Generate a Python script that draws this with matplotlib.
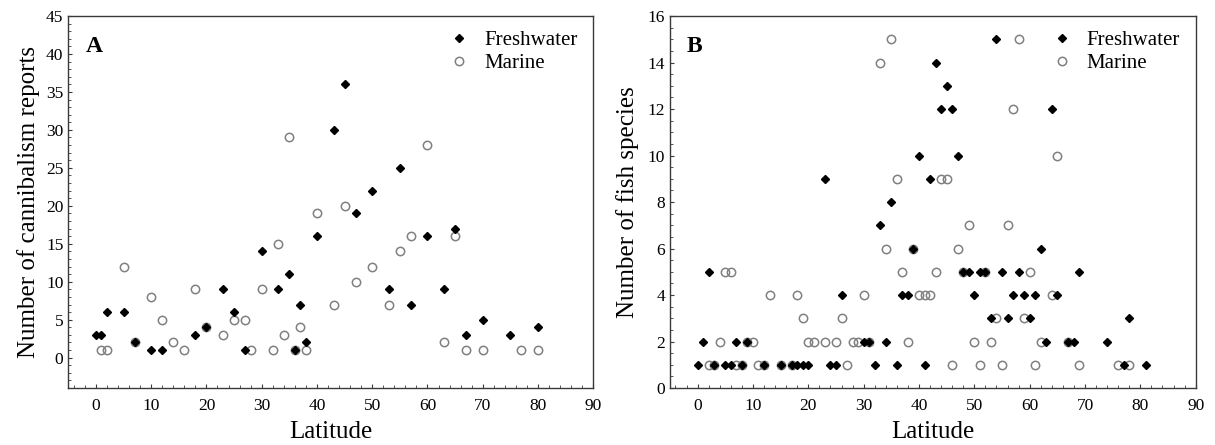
import matplotlib
matplotlib.use("Agg")
import matplotlib.pyplot as plt
from matplotlib.ticker import MultipleLocator

plt.rcParams['font.family'] = ['Liberation Serif', 'DejaVu Serif']

# ---- Panel A: cannibalism reports ----
a_fresh_lat = [0, 1, 2, 5, 7, 10, 12, 18, 20, 23, 25, 27, 30, 33, 35, 36, 37, 38, 40,
               43, 45, 47, 50, 53, 55, 57, 60, 63, 65, 67, 70, 75, 80]
a_fresh_val = [3, 3, 6, 6, 2, 1, 1, 3, 4, 9, 6, 1, 14, 9, 11, 1, 7, 2, 16,
               30, 36, 19, 22, 9, 25, 7, 16, 9, 17, 3, 5, 3, 4]
a_mar_lat = [1, 2, 5, 7, 10, 12, 14, 16, 18, 20, 23, 25, 27, 28, 30, 32, 33, 34, 35,
             36, 37, 38, 40, 43, 45, 47, 50, 53, 55, 57, 60, 63, 65, 67, 70, 77, 80]
a_mar_val = [1, 1, 12, 2, 8, 5, 2, 1, 9, 4, 3, 5, 5, 1, 9, 1, 15, 3, 29,
             1, 4, 1, 19, 7, 20, 10, 12, 7, 14, 16, 28, 2, 16, 1, 1, 1, 1]

# ---- Panel B: number of fish species ----
b_fresh_lat = [0, 3, 5, 6, 8, 12, 15, 17, 18, 19, 20, 24, 25, 32, 36, 41, 77, 81,
               1, 7, 9, 30, 31, 34, 63, 67, 68, 74,
               53, 56, 60, 78,
               26, 37, 38, 50, 57, 59, 61, 65,
               2, 48, 49, 51, 52, 55, 58, 69,
               39, 62,
               33,
               35,
               23, 42,
               40, 47,
               44, 46, 64,
               45,
               43,
               54]
b_fresh_val = [1] * 18 + [2] * 10 + [3] * 4 + [4] * 8 + [5] * 8 + [6] * 2 + [7] + [8] + \
              [9] * 2 + [10] * 2 + [12] * 3 + [13] + [14] + [15]
b_mar_lat = [2, 3, 7, 8, 11, 12, 15, 17, 27, 46, 51, 55, 61, 69, 76, 78,
             4, 9, 10, 20, 21, 23, 25, 28, 29, 31, 38, 50, 53, 62, 67,
             19, 26, 54, 59,
             13, 18, 30, 40, 41, 42, 64,
             5, 6, 37, 43, 48, 52, 60,
             34, 39, 47,
             49, 56,
             36, 44, 45,
             65,
             57,
             33,
             35, 58]
b_mar_val = [1] * 16 + [2] * 15 + [3] * 4 + [4] * 7 + [5] * 7 + [6] * 3 + [7] * 2 + \
            [9] * 3 + [10] + [12] + [14] + [15] * 2

fig = plt.figure(figsize=(12.15, 4.45), dpi=100)
axA = fig.add_axes([0.0562, 0.128, 0.4321, 0.836])
axB = fig.add_axes([0.5514, 0.128, 0.4327, 0.836])

spine_col = '#3a3a3a'
grey = '#808080'

def style(ax, ymaj, ymin):
    ax.set_xlim(-5, 90)
    ax.xaxis.set_major_locator(MultipleLocator(10))
    ax.xaxis.set_minor_locator(MultipleLocator(2))
    ax.yaxis.set_major_locator(MultipleLocator(ymaj))
    ax.yaxis.set_minor_locator(MultipleLocator(ymin))
    for s in ax.spines.values():
        s.set_color(spine_col)
        s.set_linewidth(1.0)
    ax.tick_params(which='both', direction='in', colors=spine_col,
                   labelcolor='black', labelsize=12.5)
    ax.tick_params(which='major', length=3, width=0.8)
    ax.tick_params(which='minor', length=2, width=0.6)
    ax.tick_params(axis='x', pad=7)
    ax.set_xlabel('Latitude', fontsize=18, labelpad=5)

def draw(ax, fx, fy, mx, my):
    ax.plot(fx, fy, linestyle='none', marker='D', ms=4.2, color='black',
            markeredgecolor='black', label='Freshwater', zorder=3)
    ax.plot(mx, my, linestyle='none', marker='o', ms=6, markerfacecolor='none',
            markeredgecolor=grey, markeredgewidth=1.1, label='Marine', zorder=2)
    leg = ax.legend(loc='upper right', bbox_to_anchor=(0.998, 1.0), frameon=False,
                    fontsize=15, handlelength=1.0, handletextpad=0.7,
                    labelspacing=0.15, borderaxespad=0.3)
    return leg

draw(axA, a_fresh_lat, a_fresh_val, a_mar_lat, a_mar_val)
style(axA, 5, 1)
axA.set_ylim(-4, 45)
axA.set_xticks(range(0, 91, 10))
axA.set_ylabel('Number of cannibalism reports', fontsize=18, labelpad=4)
axA.text(0.033, 0.946, 'A', transform=axA.transAxes, fontsize=17,
         fontweight='bold', ha='left', va='top')

draw(axB, b_fresh_lat, b_fresh_val, b_mar_lat, b_mar_val)
style(axB, 2, 0.5)
axB.set_ylim(0, 16)
axB.set_xticks(range(0, 91, 10))
axB.set_ylabel('Number of fish species', fontsize=18, labelpad=6)
axB.text(0.032, 0.946, 'B', transform=axB.transAxes, fontsize=17,
         fontweight='bold', ha='left', va='top')

fig.savefig('out.png', dpi=100)
